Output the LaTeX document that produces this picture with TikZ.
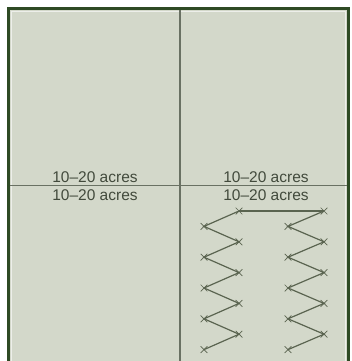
\documentclass[tikz,border=0pt]{standalone}
\usepackage{fontspec}
\setmainfont{Liberation Sans}
\usetikzlibrary{shapes.misc,positioning}
\definecolor{FieldGreen}{RGB}{211,216,202}
\definecolor{HedgeGreen}{RGB}{46,74,36}
\definecolor{DividerGray}{RGB}{105,113,99}
\definecolor{PathGray}{RGB}{90,100,80}
\definecolor{LabelGray}{RGB}{66,74,60}
\tikzset{
  hedge/.style={draw=HedgeGreen,line width=3.5pt},
  divider/.style={draw=DividerGray,line width=1.7pt},
  acrelabel/.style={text=LabelGray,inner sep=0pt,anchor=base,
    font=\fontsize{15.5}{16}\selectfont},
  turnmark/.style={cross out,draw=PathGray,line width=0.7pt,
    minimum size=6pt,inner sep=0pt},
  sweep/.style={draw=PathGray,line width=1.2pt},
}

\begin{document}
\begin{tikzpicture}[x=1pt,y=-1pt]
  \useasboundingbox (0,0) rectangle (351,361);
  \fill[white] (0,0) rectangle (351,361);
  % field
  \fill[FieldGreen] (8.5,8.5) rectangle (348.5,361);
  \draw[white!60!FieldGreen,line width=0.8pt] (11.5,361) -- (11.5,11.5) -- (345.5,11.5) -- (345.5,361);
  \draw[hedge] (8.5,361) -- (8.5,8.5) -- (348.5,8.5) -- (348.5,361);
  % paddocks
  \draw[divider] (180,10) -- (180,361);
  \draw[divider] (10,185.5) -- (347,185.5);
  \node[acrelabel] (nw) at (95,182) {10--20 acres};
  \node[acrelabel] (sw) at (95,200.5) {10--20 acres};
  \node[acrelabel] (ne) at (266,182) {10--20 acres};
  \node[acrelabel] (se) at (266,200.5) {10--20 acres};
  % grazing path
  \foreach \i in {0,...,9} {
    \pgfmathsetmacro{\yy}{211+\i*15.4}
    \ifodd\i
      \coordinate (L\i) at (204,\yy);
      \coordinate (R\i) at (288,\yy);
    \else
      \coordinate (L\i) at (239,\yy);
      \coordinate (R\i) at (324,\yy);
    \fi
    \node[turnmark] at (L\i) {};
    \node[turnmark] at (R\i) {};
  }
  \draw[sweep] (L0) -- (R0);
  \draw[sweep] (L0) -- (L1) -- (L2) -- (L3) -- (L4) -- (L5) -- (L6) -- (L7) -- (L8) -- (L9);
  \draw[sweep] (R0) -- (R1) -- (R2) -- (R3) -- (R4) -- (R5) -- (R6) -- (R7) -- (R8) -- (R9);
\end{tikzpicture}
\end{document}
